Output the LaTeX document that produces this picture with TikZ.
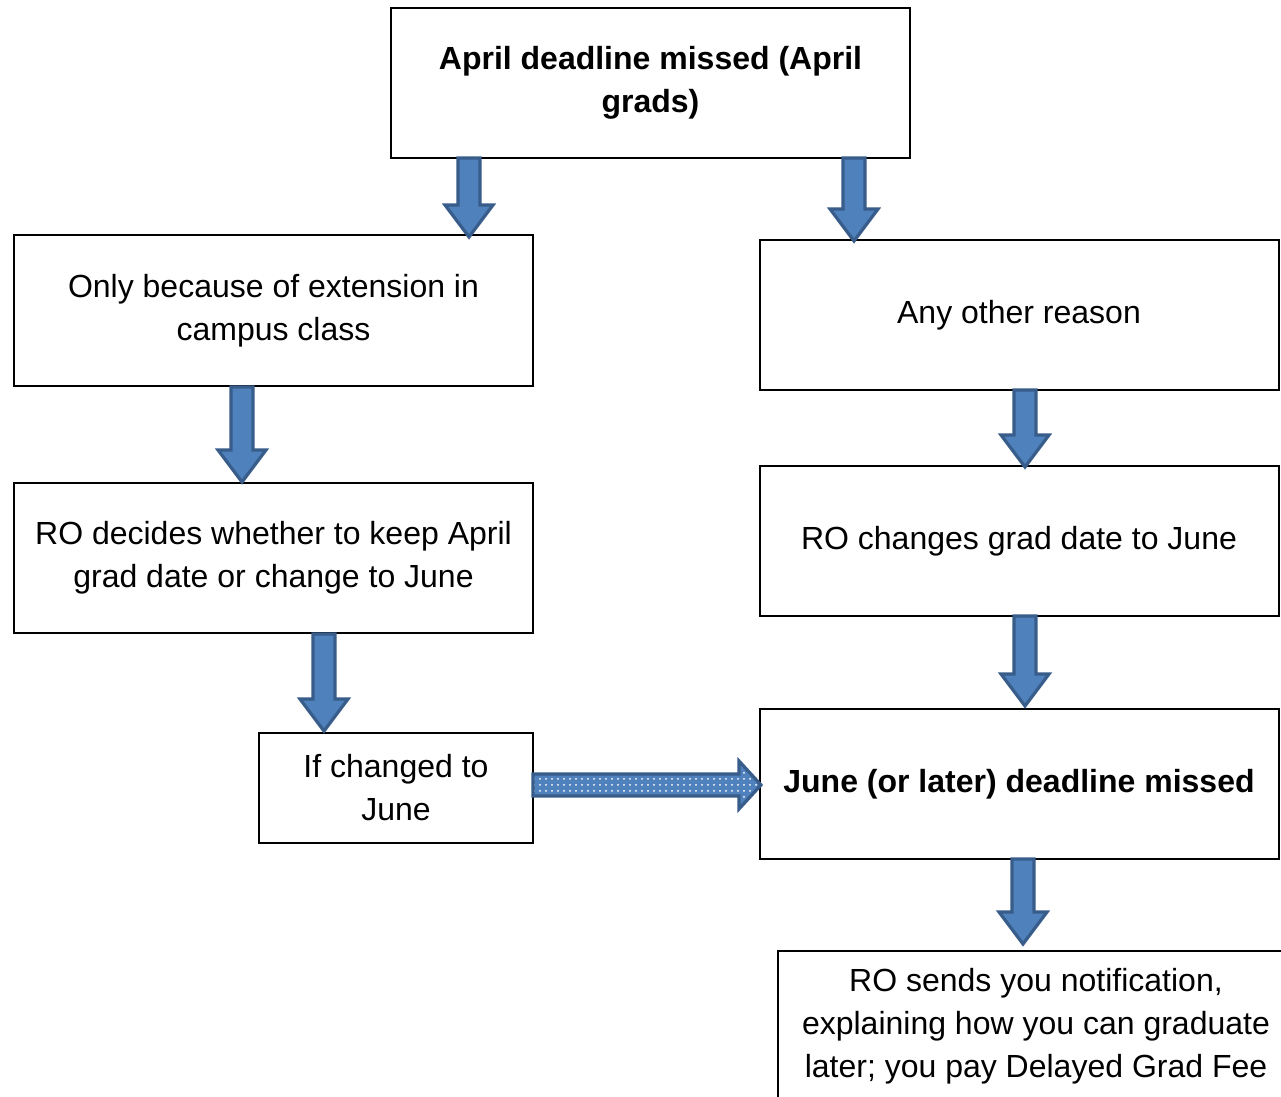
\documentclass[tikz,border=0pt]{standalone}
\usepackage{fontspec}
\setmainfont{Liberation Sans}
\usetikzlibrary{patterns}
\definecolor{afill}{HTML}{4F81BD}
\definecolor{aline}{HTML}{385D8A}
\tikzset{
  box/.style={draw=black, line width=1pt, fill=white, align=center, inner sep=0pt,
    font=\fontsize{16}{21.5}\selectfont},
  bigbox/.style={box, minimum width=259.5pt, minimum height=75pt},
  barrow/.style={fill=afill, draw=aline, line width=1.6pt, line join=miter},
  darrow/.style={barrow, preaction={fill=afill}, pattern=dots, pattern color=white}
}
\newcommand\blockdown[3]{%
  \filldraw[barrow] (#1-11,#2) -- (#1+11,#2) -- (#1+11,#3-32) -- (#1+24,#3-32)
    -- (#1,#3) -- (#1-24,#3-32) -- (#1-11,#3-32) -- cycle;}
\begin{document}
\begin{tikzpicture}[x=0.5pt,y=-0.5pt]
\clip (0,0) rectangle (1281,1097);
\fill[white] (0,0) rectangle (1281,1097);
% boxes
\node[bigbox, font=\fontsize{16}{21.5}\selectfont\bfseries] (top) at (650.5,83) {April deadline missed (April\\grads)};
\node[bigbox] (l1) at (273.5,310.5) {Only because of extension in\\campus class};
\node[bigbox] (r1) at (1019,315) {Any other reason};
\node[bigbox] (l2) at (273.5,558) {RO decides whether to keep April\\grad date or change to June};
\node[bigbox] (r2) at (1019,541) {RO changes grad date to June};
\node[box, minimum width=137pt, minimum height=55pt] (l3) at (396,788) {If changed to\\June};
\node[bigbox, font=\fontsize{16}{21.5}\selectfont\bfseries] (r3) at (1019,784) {June (or later) deadline missed};
\node[bigbox, minimum width=258pt] (b) at (1036,1026) {RO sends you notification,\\explaining how you can graduate\\later; you pay Delayed Grad Fee};
% block arrows
\blockdown{469}{158}{237}
\blockdown{854}{158}{241}
\blockdown{242}{387}{482}
\blockdown{1025}{390}{467}
\blockdown{324}{634}{731}
\blockdown{1025}{616}{706}
\blockdown{1023}{859}{944}
% dotted horizontal arrow
\filldraw[darrow] (533,774) -- (739,774) -- (739,761) -- (761,785) -- (739,809)
  -- (739,796) -- (533,796) -- cycle;
\end{tikzpicture}
\end{document}
